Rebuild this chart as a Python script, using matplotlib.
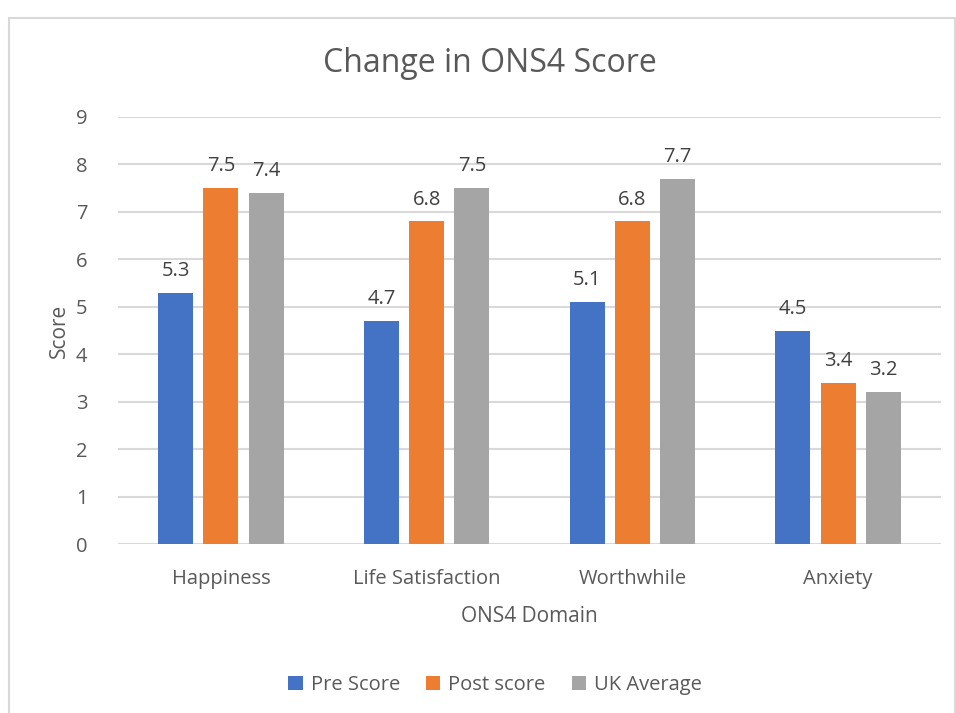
import matplotlib.pyplot as plt
from matplotlib.patches import Rectangle
import numpy as np

plt.rcParams['font.family'] = ['Open Sans', 'DejaVu Sans']

domains = ['Happiness', 'Life Satisfaction', 'Worthwhile', 'Anxiety']
pre_score = [5.3, 4.7, 5.1, 4.5]
post_score = [7.5, 6.8, 6.8, 3.4]
uk_average = [7.4, 7.5, 7.7, 3.2]
series_names = ['Pre Score', 'Post score', 'UK Average']
colors = ['#4472C4', '#ED7D31', '#A5A5A5']

text_col = '#595959'

fig = plt.figure(figsize=(9.56, 7.13), dpi=100)
fig.patches.append(Rectangle((9 / 956, -0.02), 946 / 956, 1.02 - 18 / 713,
                             transform=fig.transFigure, fill=False,
                             edgecolor='#d9d9d9', linewidth=1.5))

ax = fig.add_axes([118 / 956, 1 - 544 / 713, (941 - 118) / 956, (544 - 117) / 713])

x = np.arange(len(domains))
width = 0.17
step = 0.22
for i, (vals, name, c) in enumerate(zip([pre_score, post_score, uk_average], series_names, colors)):
    bars = ax.bar(x + (i - 1) * step, vals, width, color=c, label=name, zorder=3)
    for b, v in zip(bars, vals):
        ax.text(b.get_x() + b.get_width() / 2, v + 0.25, f'{v:.1f}', ha='center', va='bottom',
                fontsize=14.5, color='#404040')

ax.set_xlim(-0.5, 3.5)
ax.set_ylim(0, 9)
ax.set_yticks(range(0, 10))
ax.set_xticks(x)
ax.set_xticklabels(domains)
ax.tick_params(length=0, labelsize=14.5, labelcolor=text_col, pad=18)
ax.tick_params(axis='y', pad=22)
ax.grid(axis='y', color='#d9d9d9', linewidth=1.5, zorder=0)
for s in ax.spines.values():
    s.set_visible(False)

ax.set_xlabel('ONS4 Domain', fontsize=15, color=text_col, labelpad=12)
ax.set_ylabel('Score', fontsize=15, color=text_col, labelpad=4)
fig.text(490 / 956, 1 - 63 / 713, 'Change in ONS4 Score', ha='center', va='center',
         fontsize=23, color=text_col)

fig.legend(loc='center', bbox_to_anchor=(495 / 956, 1 - 685 / 713), ncol=3, frameon=False,
           fontsize=14.5, labelcolor=text_col, handlelength=0.7, handleheight=0.7,
           columnspacing=1.3, handletextpad=0.4)

fig.savefig('out.png', dpi=100)
